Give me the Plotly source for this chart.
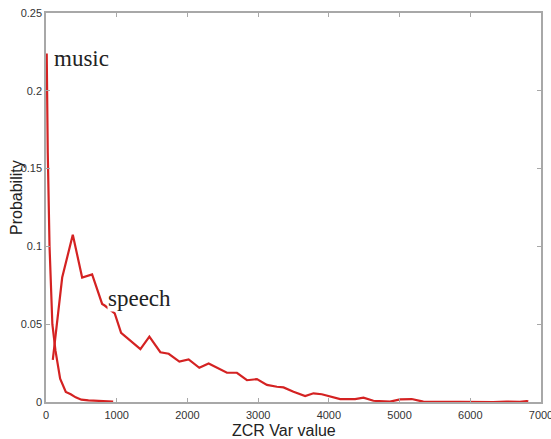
import plotly.graph_objects as go

# ZCR variance histogram (probability) for music and speech clips
music_x = [10, 25, 50, 90, 134, 200, 280, 350, 420, 500, 600, 700, 800, 950]
music_y = [0.224, 0.160, 0.100, 0.050, 0.033, 0.015, 0.0064, 0.005, 0.003,
           0.0015, 0.001, 0.0008, 0.0005, 0.0003]

speech_x = [96, 229, 379, 511, 652, 794, 830, 972, 1062, 1335, 1462, 1617,
            1735, 1886, 2017, 2168, 2300, 2418, 2559, 2700, 2842, 2983, 3124,
            3266, 3359, 3500, 3665, 3783, 3900, 4160, 4371, 4489, 4630, 4866,
            5007, 5172, 5336, 5859, 6047, 6325, 6514, 6700, 6796, 6820]
speech_y = [0.027, 0.080, 0.1075, 0.080, 0.082, 0.063, 0.062, 0.057, 0.0445,
            0.034, 0.042, 0.032, 0.031, 0.026, 0.0274, 0.022, 0.0248, 0.022,
            0.0188, 0.0188, 0.014, 0.0147, 0.011, 0.0098, 0.0094, 0.0066,
            0.0038, 0.0056, 0.005, 0.0019, 0.0019, 0.0028, 0.0008, 0.0002,
            0.0017, 0.0019, 0.0002, 0.0001, 0.0, 0.0, 0.0003, 0.0001, 0.0006,
            0.0004]

x_ticks = [0, 1000, 2000, 3000, 4000, 5000, 6000, 7000]
y_ticks = [0, 0.05, 0.1, 0.15, 0.2, 0.25]
y_tick_text = ["0", "0.05", "0.1", "0.15", "0.2", "0.25"]

W, H = 551, 439
M_L, M_R, M_T, M_B = 46, 10, 13, 37

line_color = "#d42222"
axis_color = "#a8a8a8"
tick_font = dict(family="Liberation Sans, Arial", size=11, color="#333333")
title_font = dict(family="Liberation Sans, Arial", size=16, color="#222222")

fig = go.Figure()
fig.add_trace(go.Scatter(x=music_x, y=music_y, mode="lines",
                         line=dict(color=line_color, width=2.2), name="music"))
fig.add_trace(go.Scatter(x=speech_x, y=speech_y, mode="lines",
                         line=dict(color=line_color, width=2.2), name="speech"))

label_font = dict(family="Liberation Serif, Times New Roman", size=23, color="#222222")
fig.add_annotation(x=80, y=0.221, text="music", showarrow=False,
                   xanchor="left", yanchor="middle", font=label_font)
fig.add_annotation(x=860, y=0.0665, text="speech", showarrow=False,
                   xanchor="left", yanchor="middle", font=label_font,
                   bgcolor="white", borderpad=0)

# axis titles placed in paper coordinates
plot_w = W - M_L - M_R
plot_h = H - M_T - M_B
fig.add_annotation(xref="paper", yref="paper",
                   x=(284 - M_L) / plot_w, y=-(430 - (H - M_B)) / plot_h,
                   text="ZCR Var value", showarrow=False,
                   xanchor="center", yanchor="middle", font=title_font)
fig.add_annotation(xref="paper", yref="paper",
                   x=(16 - M_L) / plot_w, y=(H - M_B - 198) / plot_h,
                   text="Probability", showarrow=False, textangle=-90,
                   xanchor="center", yanchor="middle", font=title_font)

axis_common = dict(showline=True, linecolor=axis_color, linewidth=1.5, mirror="ticks",
                   ticks="inside", ticklen=4, tickcolor=axis_color, showgrid=False,
                   zeroline=False, tickfont=tick_font, automargin=False,
                   ticklabeloverflow="allow")

fig.update_xaxes(range=[0, 7000], tickvals=x_ticks, ticklabelstandoff=2, **axis_common)
fig.update_yaxes(range=[0, 0.25], tickvals=y_ticks, ticktext=y_tick_text,
                 ticklabelstandoff=0, **axis_common)

fig.update_layout(width=W, height=H, margin=dict(l=M_L, r=M_R, t=M_T, b=M_B),
                  plot_bgcolor="white", paper_bgcolor="white", showlegend=False)

fig.write_html("out.html")
